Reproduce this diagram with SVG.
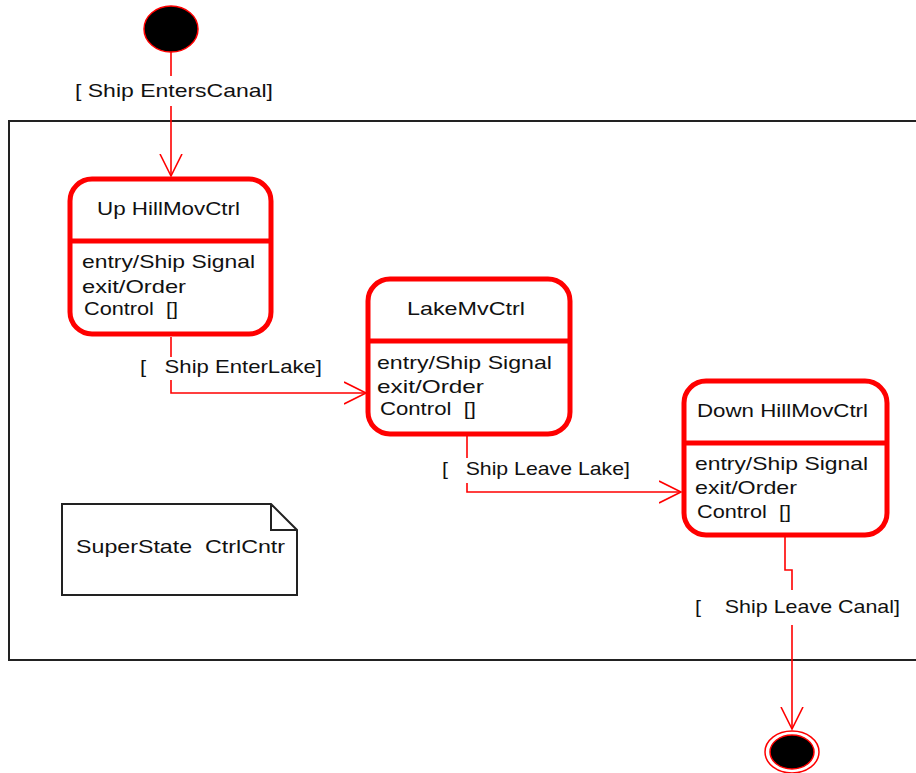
<svg xmlns="http://www.w3.org/2000/svg" width="916" height="773" viewBox="0 0 916 773">
<style>
text{font-family:"Liberation Sans",Arial,sans-serif;font-size:19px;fill:#111}
.st{fill:#fff;stroke:#f00;stroke-width:5}
.dv{stroke:#f00;stroke-width:5}
.cn{fill:none;stroke:#f00;stroke-width:1.6}
.fr{fill:none;stroke:#222;stroke-width:2}
</style>
<defs>
<marker id="ah" viewBox="0 0 24 24" refX="22" refY="12" markerWidth="24" markerHeight="24" markerUnits="userSpaceOnUse" orient="auto">
<path d="M0,1 L22,12 L0,23" fill="none" stroke="#f00" stroke-width="1.6"/>
</marker>
</defs>
<g id="superstate">
<rect class="fr" x="9" y="121" width="920" height="539"/>
</g>
<g id="initial">
<ellipse cx="171" cy="29" rx="27" ry="23" fill="#000" stroke="#f00" stroke-width="1.5"/>
</g>
<g id="uphill">
<rect class="st" x="70" y="179" width="201" height="155" rx="22"/>
<line class="dv" x1="70" y1="241" x2="271" y2="241"/>
<text x="97" y="215" textLength="143" lengthAdjust="spacingAndGlyphs">Up HillMovCtrl</text>
<text x="82" y="268" textLength="173" lengthAdjust="spacingAndGlyphs">entry/Ship Signal</text>
<text x="82" y="293" textLength="104" lengthAdjust="spacingAndGlyphs">exit/Order</text>
<text x="84" y="315" textLength="94" lengthAdjust="spacingAndGlyphs" xml:space="preserve">Control  []</text>
</g>
<g id="lake">
<rect class="st" x="368" y="279" width="202" height="155" rx="22"/>
<line class="dv" x1="368" y1="341" x2="570" y2="341"/>
<text x="407" y="315" textLength="118" lengthAdjust="spacingAndGlyphs">LakeMvCtrl</text>
<text x="377" y="369" textLength="175" lengthAdjust="spacingAndGlyphs">entry/Ship Signal</text>
<text x="377" y="393" textLength="107" lengthAdjust="spacingAndGlyphs">exit/Order</text>
<text x="380" y="415" textLength="96" lengthAdjust="spacingAndGlyphs" xml:space="preserve">Control  []</text>
</g>
<g id="downhill">
<rect class="st" x="684" y="381" width="203" height="154" rx="22"/>
<line class="dv" x1="684" y1="443" x2="887" y2="443"/>
<text x="697" y="417" textLength="171" lengthAdjust="spacingAndGlyphs">Down HillMovCtrl</text>
<text x="695" y="470" textLength="173" lengthAdjust="spacingAndGlyphs">entry/Ship Signal</text>
<text x="695" y="494" textLength="102" lengthAdjust="spacingAndGlyphs">exit/Order</text>
<text x="697" y="518" textLength="94" lengthAdjust="spacingAndGlyphs" xml:space="preserve">Control  []</text>
</g>
<g id="final">
<ellipse cx="792" cy="752" rx="27" ry="21" fill="none" stroke="#f00" stroke-width="1.5"/>
<ellipse cx="792" cy="752" rx="22" ry="17" fill="#000" stroke="#f00" stroke-width="1.5"/>
</g>
<g id="note">
<path class="fr" d="M62,504 L271,504 L297,530 L297,595 L62,595 Z M271,504 L271,530 L297,530"/>
<text x="76" y="553" textLength="209" lengthAdjust="spacingAndGlyphs" xml:space="preserve">SuperState  CtrlCntr</text>
</g>
<g id="connectors">
<line class="cn" x1="171" y1="52" x2="171" y2="76"/>
<line class="cn" x1="171" y1="106" x2="171" y2="176" marker-end="url(#ah)"/>
<text x="75" y="97" textLength="198" lengthAdjust="spacingAndGlyphs">[ Ship EntersCanal]</text>
<line class="cn" x1="171" y1="337" x2="171" y2="357"/>
<polyline class="cn" points="171,380 171,393 366,393" marker-end="url(#ah)"/>
<text x="140" y="373" textLength="182" lengthAdjust="spacingAndGlyphs" xml:space="preserve">[   Ship EnterLake]</text>
<line class="cn" x1="467" y1="436" x2="467" y2="458"/>
<polyline class="cn" points="467,483 467,492 681,492" marker-end="url(#ah)"/>
<text x="442" y="475" textLength="188" lengthAdjust="spacingAndGlyphs" xml:space="preserve">[   Ship Leave Lake]</text>
<polyline class="cn" points="785,537 785,570 792,570 792,590"/>
<line class="cn" x1="792" y1="625" x2="792" y2="729" marker-end="url(#ah)"/>
<text x="695" y="613" textLength="205" lengthAdjust="spacingAndGlyphs" xml:space="preserve">[    Ship Leave Canal]</text>
</g>
</svg>
